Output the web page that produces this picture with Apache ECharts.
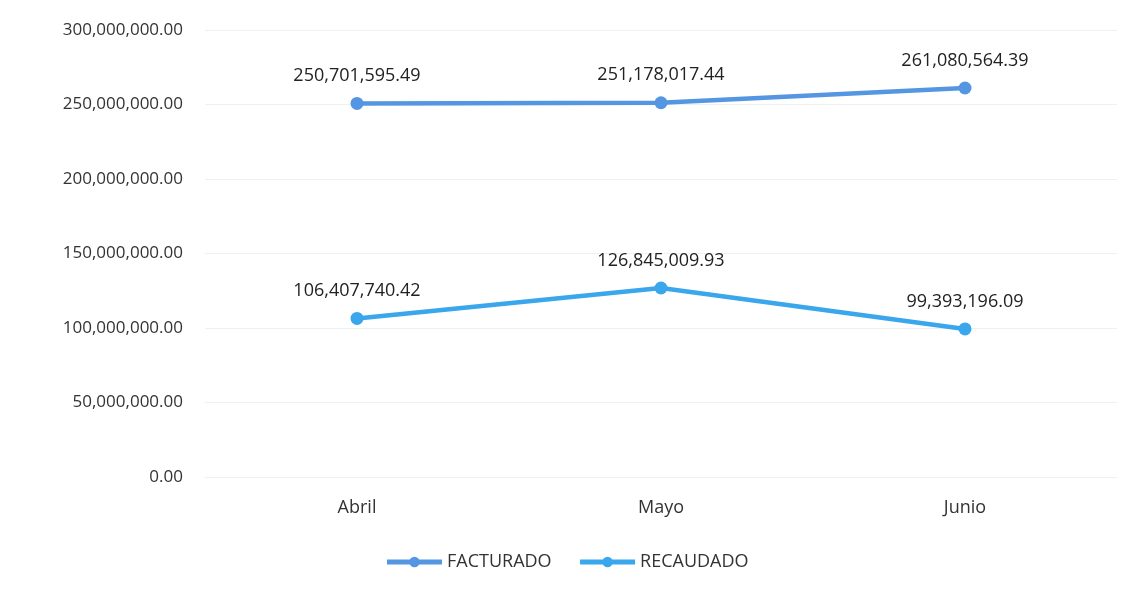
<!DOCTYPE html>
<html><head><meta charset="utf-8">
<script src="https://cdn.jsdelivr.net/npm/echarts@6/dist/echarts.min.js"></script>
<style>html,body{margin:0;padding:0;background:#fff}#c{width:1133px;height:592px}</style>
</head><body><div id="c"></div>
<script>
const categories = ['Abril', 'Mayo', 'Junio'];
const facturado = [250701595.49, 251178017.44, 261080564.39];
const recaudado = [106407740.42, 126845009.93, 99393196.09];
const seriesNames = ['FACTURADO', 'RECAUDADO'];

const fmt = v => Number(v).toLocaleString('en-US', {minimumFractionDigits: 2, maximumFractionDigits: 2});
const font = '"Open Sans", sans-serif';
const chart = echarts.init(document.getElementById('c'));
function mk(name, data, color) {
  return {
    name, type: 'line', data,
    symbol: 'circle', symbolSize: 13,
    lineStyle: {width: 4.5, color},
    itemStyle: {color},
    label: {show: true, position: 'top', distance: 12, formatter: p => fmt(p.value),
      fontFamily: font, fontSize: 18, color: '#222'}
  };
}
chart.setOption({
  animation: false,
  grid: {left: 205, right: 16, top: 30, bottom: 115},
  legend: {
    bottom: 16, left: 'center', itemWidth: 55, itemHeight: 13, itemGap: 26,
    lineStyle: {width: 5},
    textStyle: {fontFamily: font, fontSize: 18, color: '#333'},
    data: seriesNames
  },
  xAxis: {
    type: 'category', data: categories, boundaryGap: true,
    axisLine: {show: false}, axisTick: {show: false},
    axisLabel: {fontFamily: font, fontSize: 18, color: '#333', margin: 22}
  },
  yAxis: {
    type: 'value', min: 0, max: 300000000, interval: 50000000,
    axisLine: {show: false}, axisTick: {show: false},
    splitLine: {lineStyle: {color: '#f0f0f0', width: 1}},
    axisLabel: {fontFamily: font, fontSize: 17, color: '#333', margin: 22, formatter: v => fmt(v)}
  },
  series: [
    mk(seriesNames[0], facturado, '#5596e2'),
    mk(seriesNames[1], recaudado, '#3aa6ec')
  ]
});
</script></body></html>
